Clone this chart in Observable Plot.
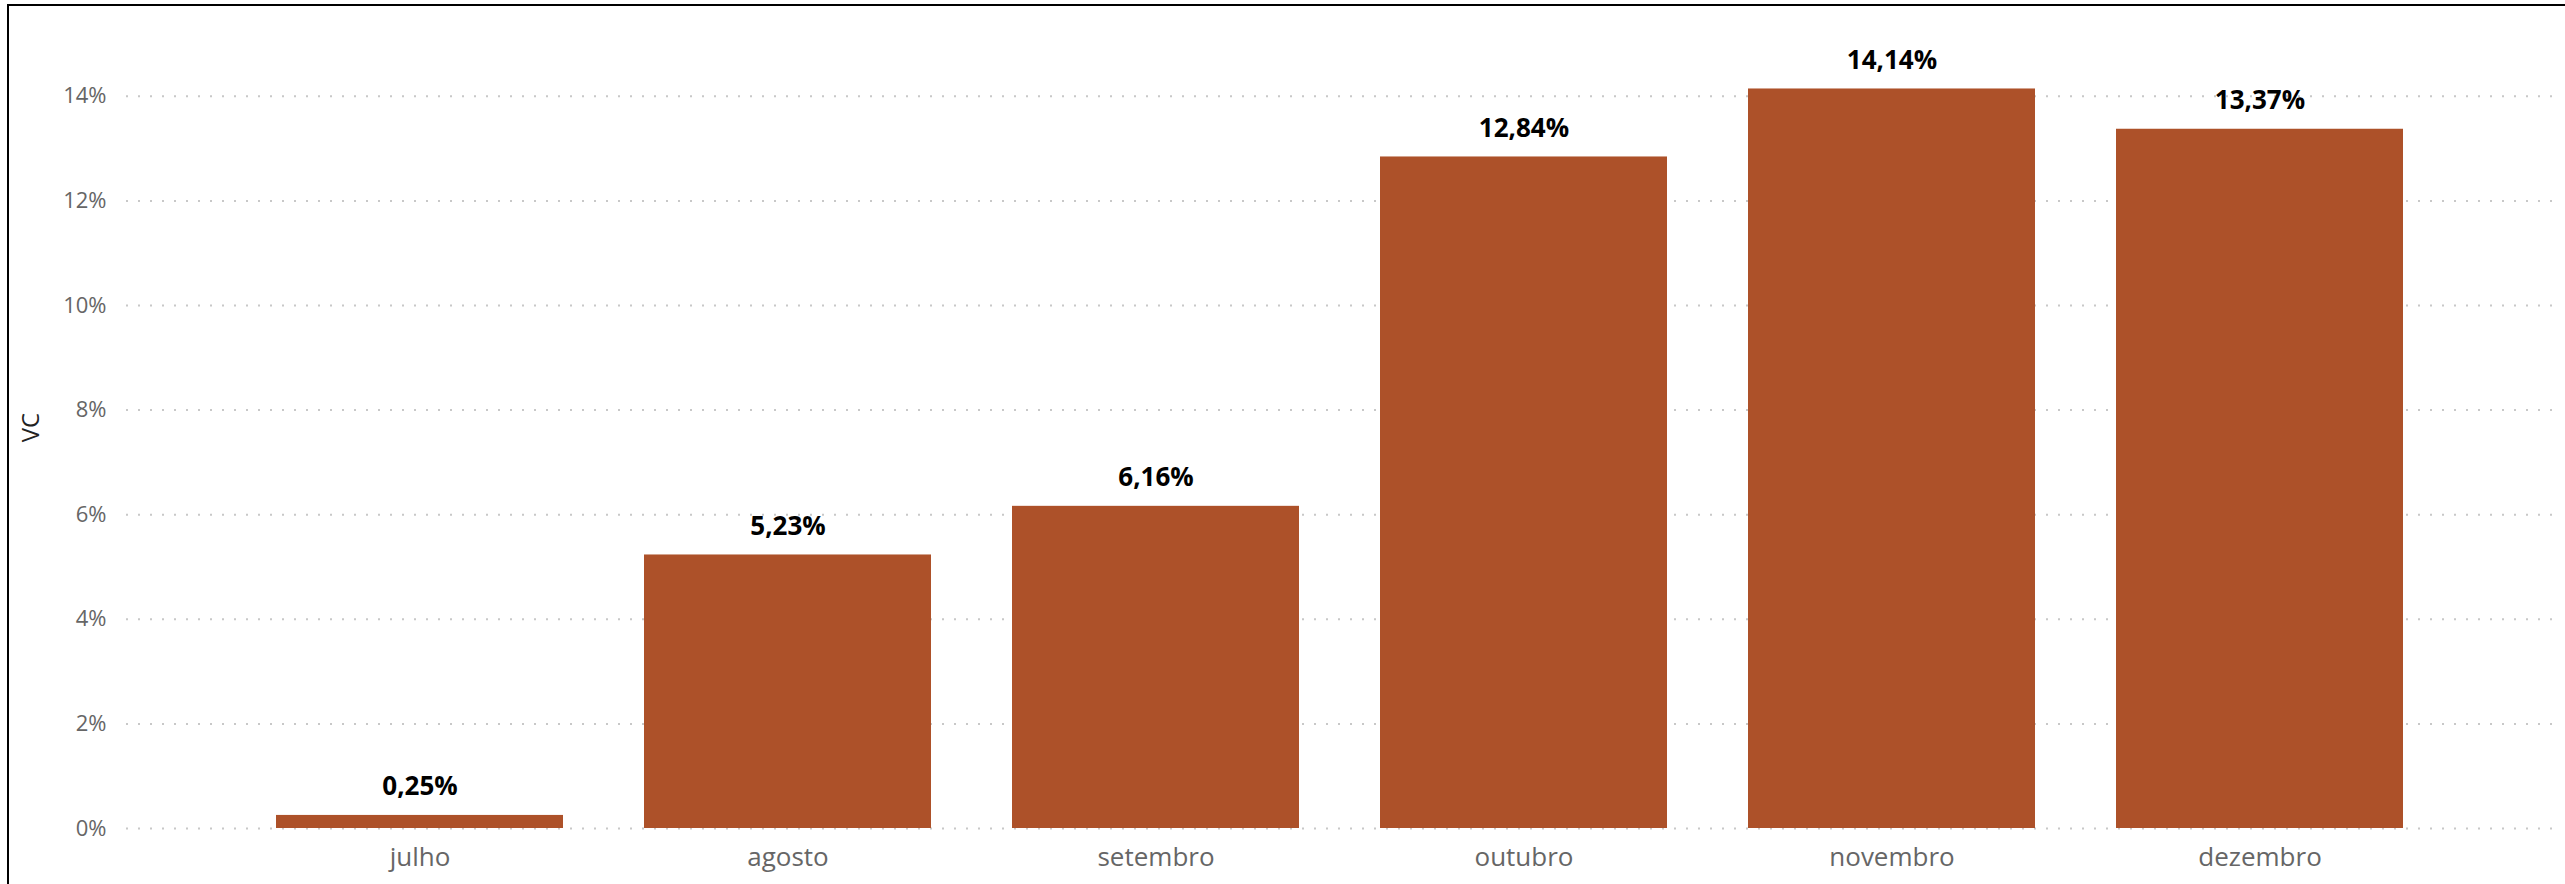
<!DOCTYPE html>
<html>
<head>
<meta charset="utf-8">
<script src="https://cdn.jsdelivr.net/npm/d3@7"></script>
<script src="https://cdn.jsdelivr.net/npm/@observablehq/plot@0.6"></script>
<style>
  html, body { margin: 0; padding: 0; background: #fff; }
  body { width: 2565px; height: 884px; position: relative; overflow: hidden; }
  #frame { position: absolute; left: 7px; top: 4px; right: 0; bottom: 0;
           border-left: 2px solid #000; border-top: 2px solid #000; pointer-events: none; }
  #chart { position: absolute; left: 0; top: 0; }
</style>
</head>
<body>
<div id="chart"></div>
<div id="frame"></div>
<script>
const months = ["julho", "agosto", "setembro", "outubro", "novembro", "dezembro"];
const vc = [0.0025, 0.0523, 0.0616, 0.1284, 0.1414, 0.1337];
const yTicks = [0, 0.02, 0.04, 0.06, 0.08, 0.10, 0.12, 0.14];
const yLabel = "VC";

const data = months.map((m, i) => ({month: m, value: vc[i]}));
const fmtLabel = v => (v * 100).toFixed(2).replace(".", ",") + "%";
const fmtTick = v => Math.round(v * 100) + "%";
const font = "'Open Sans', 'Noto Sans', sans-serif";

const chart = Plot.plot({
  width: 2565,
  height: 884,
  marginLeft: 126,
  marginRight: 11,
  marginTop: 43.5,
  marginBottom: 56,
  style: {fontFamily: font, background: "transparent", overflow: "visible"},
  x: {domain: months, paddingInner: 0.22, paddingOuter: 0.405, label: null},
  y: {domain: [0, 0.15], label: null},
  marks: [
    Plot.ruleY(yTicks, {stroke: "#c8c8c8", strokeWidth: 2, strokeDasharray: "2,10"}),
    Plot.barY(data, {x: "month", y: "value", fill: "#AD5129"}),
    Plot.text(data, {x: "month", y: "value", text: d => fmtLabel(d.value),
      lineAnchor: "bottom", dy: -20, fontSize: 26, fontWeight: "bold", fill: "#000"}),
    Plot.axisY(yTicks, {tickSize: 0, tickPadding: 20, tickFormat: fmtTick,
      fontSize: 22, color: "#666", label: null}),
    Plot.axisX({tickSize: 0, tickPadding: 19, fontSize: 26, color: "#666", label: null}),
    Plot.text([yLabel], {frameAnchor: "left", dx: -95, dy: 6, rotate: -90,
      fontSize: 24, fill: "#222"})
  ]
});
document.getElementById("chart").appendChild(chart);
</script>
</body>
</html>
